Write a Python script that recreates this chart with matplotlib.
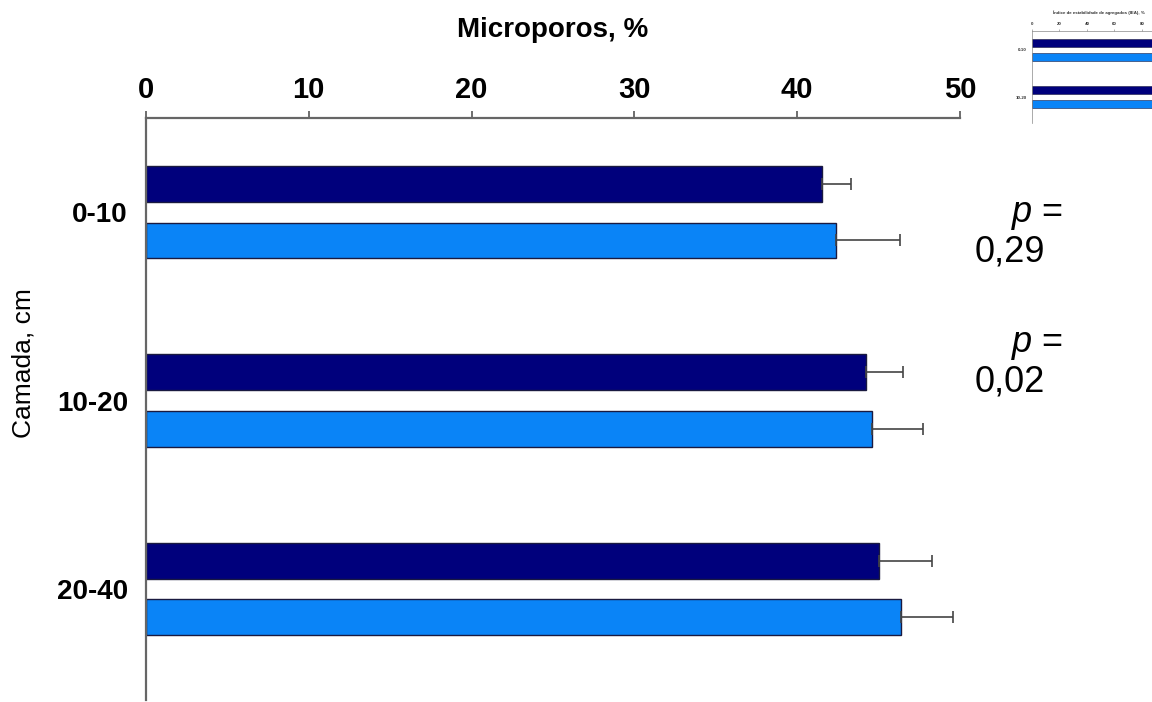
import numpy as np
import matplotlib
matplotlib.use("Agg")
import matplotlib.pyplot as plt

plt.rcParams['font.family'] = ['Liberation Sans', 'DejaVu Sans']

camadas = ['0-10', '10-20', '20-40']
micro_a = [41.5, 44.2, 45.0]      # barras azul-escuro
micro_a_err = [1.8, 2.3, 3.3]
micro_b = [42.4, 44.6, 46.4]      # barras azul-claro
micro_b_err = [3.9, 3.1, 3.2]
ticks_x = [0, 10, 20, 30, 40, 50]
p_valores = ['0,29', '0,02']

# miniatura do gráfico de IEA (canto superior direito)
iea_camadas = ['0-10', '10-20']
iea_a = [96, 95]
iea_b = [97, 96]
iea_ticks = [0, 20, 40, 60, 80]

cor_escura = '#00007c'
cor_clara = '#0a84f7'
narrow = ['Liberation Sans Narrow', 'Liberation Sans', 'DejaVu Sans']

fig = plt.figure(figsize=(11.52, 7.02), dpi=100)
ax = fig.add_axes([146/1152, 2/702, 814/1152, 582/702])

y = np.arange(len(camadas))
h = 0.19
ax.barh(y - 0.15, micro_a, height=h, color=cor_escura, edgecolor='#1a1a40', lw=1,
        xerr=[np.zeros(3), micro_a_err], ecolor='#444444',
        error_kw=dict(capsize=4.5, elinewidth=1.2, capthick=1.2))
ax.barh(y + 0.15, micro_b, height=h, color=cor_clara, edgecolor='#1a1a40', lw=1,
        xerr=[np.zeros(3), micro_b_err], ecolor='#444444',
        error_kw=dict(capsize=4.5, elinewidth=1.2, capthick=1.2))

ax.set_xlim(0, 50)
ax.set_ylim(2.59, -0.5)
ax.xaxis.tick_top()
ax.set_xticks(ticks_x)
ax.set_xticklabels([str(t) for t in ticks_x], family=narrow, fontweight='bold', fontsize=21)
ax.tick_params(axis='x', direction='out', length=5, width=1.2, color='#555555', pad=5)
ax.set_yticks(y)
ax.set_yticklabels(camadas, family=narrow, fontweight='bold', fontsize=20)
ax.tick_params(axis='y', length=0, pad=13)
for s in ['right', 'bottom']:
    ax.spines[s].set_visible(False)
for s in ['top', 'left']:
    ax.spines[s].set_color('#666666')
    ax.spines[s].set_linewidth(1.6)

fig.text(553/1152, 1 - 37/702, 'Microporos, %', family=narrow, fontweight='bold',
         fontsize=20, ha='center', va='baseline')
fig.text(24/1152, 1 - 363/702, 'Camada, cm', fontsize=19, rotation=90,
         ha='center', va='center')

# valores de p ao lado dos grupos
for base, pv in zip([222, 352], p_valores):
    fig.text(1012/1152, 1 - base/702, 'p', style='italic', fontsize=26, va='baseline')
    fig.text(1041/1152, 1 - base/702, '=', fontsize=26, va='baseline')
    fig.text(975/1152, 1 - (base + 40)/702, pv, fontsize=26, va='baseline')

# miniatura
axi = fig.add_axes([1032/1152, 1 - 123/702, 120/1152, 92/702])
yi = np.arange(len(iea_camadas))
axi.barh(yi - 0.15, iea_a, height=0.18, color=cor_escura, edgecolor='#1a1a40', lw=0.4)
axi.barh(yi + 0.15, iea_b, height=0.18, color=cor_clara, edgecolor='#1a1a40', lw=0.4)
axi.set_xlim(0, 87.3)
axi.set_ylim(1.55, -0.4)
axi.xaxis.tick_top()
axi.set_xticks(iea_ticks)
axi.set_xticklabels([str(t) for t in iea_ticks], fontsize=3.2, fontweight='bold', color='#333333')
axi.tick_params(axis='x', length=1.5, width=0.4, pad=2, color='#777777')
axi.set_yticks(yi)
axi.set_yticklabels(iea_camadas, fontsize=3.2, fontweight='bold', color='#333333')
axi.tick_params(axis='y', length=0, pad=4)
for s in ['right', 'bottom']:
    axi.spines[s].set_visible(False)
for s in ['top', 'left']:
    axi.spines[s].set_color('#888888')
    axi.spines[s].set_linewidth(0.5)
fig.text(1099/1152, 1 - 14/702, 'Índice de estabilidade de agregados (IEA), %',
         fontsize=3.2, fontweight='bold', color='#333333', ha='center', va='baseline')

fig.savefig('out.png', dpi=100)
